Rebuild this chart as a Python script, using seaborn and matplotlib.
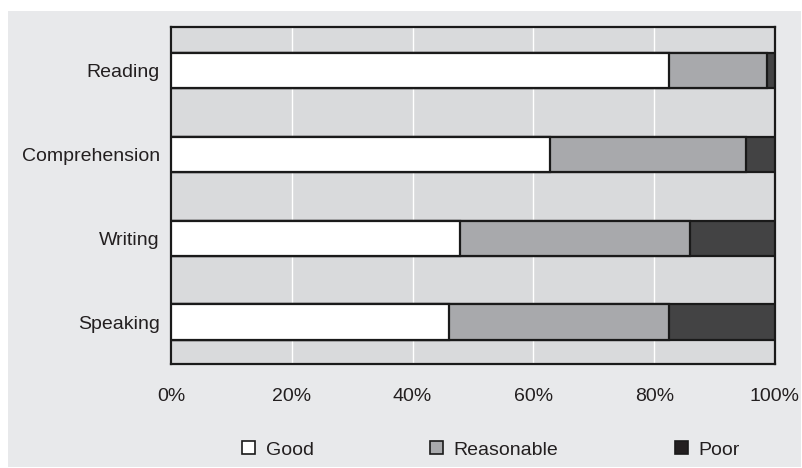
import numpy as np
import pandas as pd
import matplotlib
matplotlib.use("Agg")
import matplotlib.pyplot as plt
from matplotlib.patches import Patch, Rectangle
import seaborn as sns

# data (percent of respondents)
skills = ["Reading", "Comprehension", "Writing", "Speaking"]
good = [82.5, 62.7, 47.9, 46.0]
reasonable = [16.2, 32.5, 38.0, 36.5]
poor = [1.3, 4.8, 14.1, 17.5]
levels = ["Good", "Reasonable", "Poor"]
level_colors = ["#ffffff", "#a8a9ac", "#434344"]
ticks = [0, 20, 40, 60, 80, 100]
tick_labels = ["0%", "20%", "40%", "60%", "80%", "100%"]

sns.set_theme(style="white")
plt.rcParams["font.family"] = ["Liberation Sans", "DejaVu Sans"]
text_col = "#231f20"

df = pd.DataFrame({"skill": skills, "Good": good,
                   "Reasonable": reasonable, "Poor": poor})
# cumulative ends for stacking
cum = df[levels].cumsum(axis=1)

fig = plt.figure(figsize=(8.03, 4.68), dpi=100)
fig.patch.set_facecolor("white")
# grey panel behind everything
panel = Rectangle((8 / 803, 1 / 468), 793 / 803, 456 / 468,
                  transform=fig.transFigure, facecolor="#e8e9eb",
                  edgecolor="none", zorder=-10)
fig.patches.append(panel)

ax = fig.add_axes([171 / 803, 1 - 364 / 468, 604 / 803, 337 / 468])
ax.set_facecolor("#d9dadc")

# draw longest first so shorter segments sit on top
for lvl, col in zip(levels[::-1], level_colors[::-1]):
    sns.barplot(x=cum[lvl], y=df["skill"], orient="h", color=col,
                edgecolor="#1a1a1a", linewidth=1.6, width=0.42,
                saturation=1, ax=ax, zorder=3)

ax.set_xlim(0, 100)
ax.set_ylim(3.5, -0.52)
ax.set_xticks(ticks)
ax.set_xticklabels(tick_labels)
ax.set_xlabel("")
ax.set_ylabel("")
ax.xaxis.grid(True, color="white", linewidth=1.0, zorder=1)
ax.set_axisbelow(True)
ax.tick_params(axis="x", colors="white", length=5, width=1, pad=12,
               labelcolor=text_col, labelsize=14)
ax.tick_params(axis="y", length=0, pad=8, labelcolor=text_col, labelsize=14)
for sp in ax.spines.values():
    sp.set_color("#1a1a1a")
    sp.set_linewidth(1.6)

handles = [Patch(facecolor=c, edgecolor="#1a1a1a", linewidth=1.2, label=l)
           for l, c in zip(levels, ["#ffffff", "#a8a9ac", "#231f20"])]
leg = fig.legend(handles=handles, loc="center", ncol=3,
                 bbox_to_anchor=(491 / 803, 1 - 450 / 468), frameon=False,
                 fontsize=14, handlelength=0.65, handleheight=0.65,
                 handletextpad=0.55, columnspacing=6.0)
for t in leg.get_texts():
    t.set_color(text_col)

fig.savefig("out.png", dpi=100)
